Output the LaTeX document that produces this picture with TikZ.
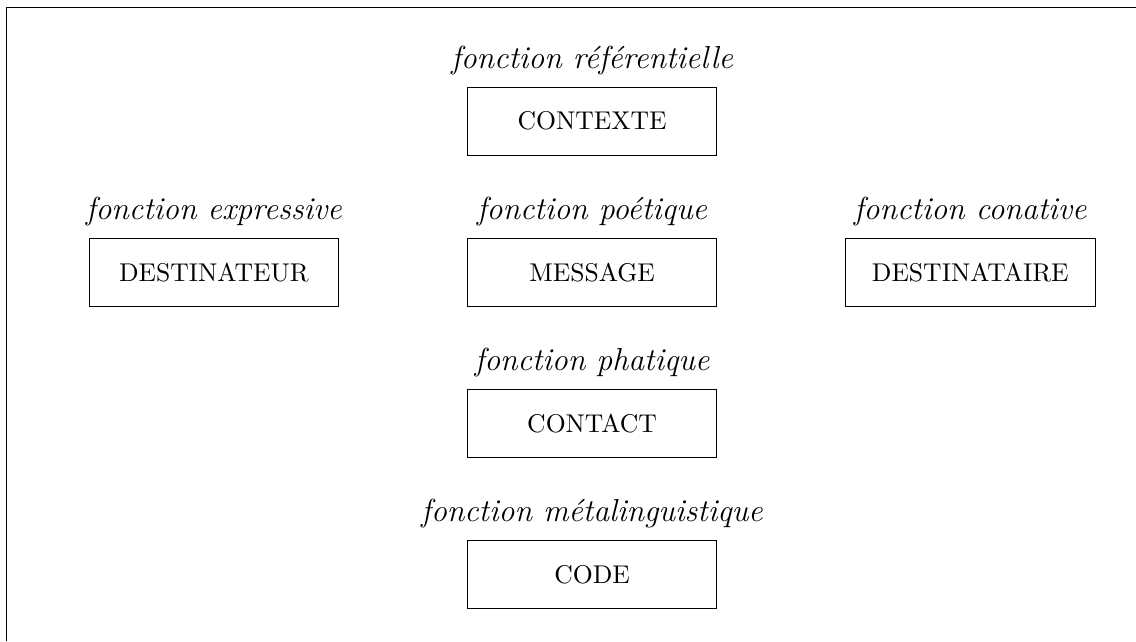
\documentclass[tikz,border=0pt]{standalone}
\usepackage{tikz}
\usetikzlibrary{positioning}

\begin{document}
\begin{tikzpicture}[
    fct/.style={draw, minimum width=3.42cm, minimum height=0.93cm},
    role/.style={font=\fontsize{12.4}{15}\selectfont\itshape}]
    \useasboundingbox (-8.11,-5.05) rectangle (7.45,3.73);
    % frame, only its left and top sides are in view
    \draw (-8.02,-5.05) |- (7.45,3.625);

    % the six factors
    \node[fct] (contexte) at (0,2.07) {CONTEXTE};
    \node[fct] (destinateur) at (-5.18,0) {DESTINATEUR};
    \node[fct] (message) at (0,0) {MESSAGE};
    \node[fct] (destinataire) at (5.18,0) {DESTINATAIRE};
    \node[fct] (contact) at (0,-2.07) {CONTACT};
    \node[fct] (code) at (0,-4.14) {CODE};

    % the matching functions
    \node[role, above=1pt of contexte] (referentielle) {fonction référentielle};
    \node[role, above=1pt of destinateur] (expressive) {fonction expressive};
    \node[role, above=1pt of message] (poetique) {fonction poétique};
    \node[role, above=1pt of destinataire] (conative) {fonction conative};
    \node[role, above=1pt of contact] (phatique) {fonction phatique};
    \node[role, above=1pt of code] (metalinguistique) {fonction métalinguistique};
\end{tikzpicture}
\end{document}
